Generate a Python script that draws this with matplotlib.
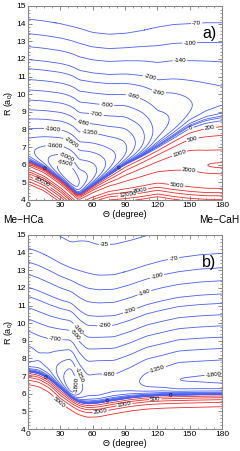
import numpy as np
import matplotlib
matplotlib.use("Agg")
import matplotlib.pyplot as plt
from matplotlib.ticker import MultipleLocator

plt.rcParams["font.family"] = ["Liberation Sans", "DejaVu Sans"]
plt.rcParams["mathtext.fontset"] = "custom"
plt.rcParams["mathtext.rm"] = "Liberation Sans"
plt.rcParams["contour.negative_linestyle"] = "solid"

# ---------------- panel a) : radial shape at each angle
theta_a = [0, 15, 30, 47, 60, 75, 90, 105, 120, 135, 150, 165, 180]
wall_a = [6.2, 5.8, 5.15, 4.25, 4.8, 5.4, 6.0, 6.45, 6.95, 7.5, 8.05, 8.35, 8.5]        # R of the 0 contour
r70_a = [14.26, 14.15, 14.0, 13.75, 13.5, 13.4, 13.45, 13.6, 13.8, 13.95, 14.0, 14.05, 14.05]  # R of the -70 contour
tail_a = [6, 6, 6, 6, 6, 6, 6, 5.6, 5.0, 5.0, 5.0, 5.0, 5.0]
soft_a = [8, 8, 6, 1.0, 2, 2.5, 3, 3, 3, 3.5, 4, 4, 4]
slope_a = [0, 0, 0, 0, 400, 800, 1200, 1300, 1200, 1000, 800, 650, 600]
hard_a = [5.85, 5.45, 4.8, 3.9, 4.2, 4.45, 4.5, 4.6, 4.75, 4.6, 4.5, 4.45, 4.45]    # R where inner wall reaches 5000
pocket_a = (180, 5.93, 800)

neg_a = [-6500, -5000, -3600, -2600, -1900, -1350, -980, -700, -500, -360, -260, -200, -140, -100, -70]
pos_a = [200, 500, 1000, 2000, 5000, 8000, 12000, 20000, 30000, 50000, 80000]

labels_a = [(-70, 156.5, 14.0), (-100, 150, 13.03), (-140, 141, 12.1), (-200, 114.7, 11.28),
            (-260, 122.5, 10.58), (-360, 97.7, 9.95), (-500, 73, 9.4), (-700, 63.7, 9.0),
            (-980, 51, 8.7), (-1350, 57.5, 8.07), (-1900, 23.5, 8.25), (-2600, 40.5, 7.3),
            (-3600, 25, 7.44), (-5000, 36, 6.46), (-6500, 32.8, 5.8), (0, 14, 5.75), (0, 84, 5.9),
            (0, 151, 8.1), (200, 169, 8.0), (500, 153, 7.3), (1000, 142, 6.38), (2000, 149, 5.35),
            (5000, 138, 4.8), (8000, 104, 4.55), (12000, 93, 4.2), (20000, 15, 5.24)]

# ---------------- panel b)
theta_b = [0, 10, 20, 30, 40, 47, 55, 65, 80, 95, 110, 125, 140, 160, 180]
wall_b = [7.25, 7.14, 6.82, 6.3, 5.78, 5.52, 5.42, 5.47, 5.62, 5.76, 5.85, 5.9, 5.92, 5.94, 5.95]
r70_b = [14.25, 14.05, 13.75, 13.4, 13.13, 13.0, 12.85, 12.72, 12.75, 13.0, 13.3, 13.55, 13.72, 13.88, 13.96]
tail_b = [7, 7, 7, 7, 7, 6.4, 6.0, 6.1, 6.1, 6.3, 6.6, 6.8, 7, 7, 7]
soft_b = [2.5, 2.0, 1.7, 1.8, 2.0, 1.0, 0.8, 1.0, 1.2, 1.2, 1.0, 0.6, 0.4, 0.3, 0.3]
slope_b = [0] * 15
hard_b = [6.56, 6.44, 6.1, 5.5, 5.1, 4.85, 4.7, 4.72, 4.9, 5.06, 5.17, 5.22, 5.25, 5.28, 5.31]

neg_b = [-1800, -1350, -980, -700, -500, -360, -260, -200, -140, -100, -70, -35]
pos_b = [200, 500, 1000, 2000, 5000]

labels_b = [(-35, 71, 14.05), (-70, 135, 13.7), (-100, 119, 12.83), (-140, 107, 11.9),
            (-200, 93, 11.0), (-260, 71, 10.2), (-360, 46.7, 9.67), (-500, 42, 9.27),
            (-700, 25, 8.9), (-980, 76, 7.67), (-1350, 51, 7.16), (-1350, 119, 7.6),
            (-1800, 43.6, 6.5), (-1800, 172, 7.2), (0, 15.8, 6.93), (0, 73, 5.77), (0, 132, 5.89),
            (5000, 28, 5.45), (2000, 67, 5.1), (1000, 89, 5.6), (500, 118, 5.77)]

BLUE = "#4a5ff0"
RED = "#ee2a2a"

th = np.linspace(0, 180, 361)
rr = np.linspace(4, 15, 551)
T, RR = np.meshgrid(th, rr)


def profile(nodes, vals, w=11):
    y = np.interp(th, nodes, vals)
    yp = np.pad(y, w // 2, mode="reflect")
    return np.convolve(yp, np.ones(w) / w, mode="valid")


def surface(nodes, wall, r70, tail, soft, slope, hard, pocket=None):
    rw = profile(nodes, wall)
    n = profile(nodes, tail)
    m = profile(nodes, soft)
    r7 = profile(nodes, r70)
    s = profile(nodes, slope)
    rh = profile(nodes, hard)
    c = 70 * r7 ** n / (1 - (rw / r7) ** m)
    att = -c / RR ** n * (1 - (rw / RR) ** m)
    rep = s * (rw - RR) + 5000 * (np.exp(3 * (rh - RR)) - np.exp(3 * (rh - rw)))
    v = np.where(RR >= rw, att, rep)
    if pocket is not None:
        t0, r0, amp = pocket
        v = v - amp * np.exp(-0.5 * ((T - t0) / 18) ** 2 - 0.5 * ((RR - r0) / 0.18) ** 2)
    return v


def draw(ax, v, neg, pos, labels, tag):
    sets = {}
    for lev in sorted(neg) + [0] + pos:
        col = RED if lev > 0 else BLUE
        sets[lev] = ax.contour(th, rr, v, levels=[lev], colors=col, linewidths=0.6,
                               linestyles="solid")
    for lev, x, y in labels:
        cs = sets[lev]
        if len(cs.allsegs[0]) == 0:
            continue
        ax.clabel(cs, manual=[(x, y)], inline=True, inline_spacing=1,
                  fontsize=4.5, fmt=lambda z: f"{z:.0f}", colors="black")
    ax.set_xlim(0, 180)
    ax.set_ylim(4, 15)
    ax.xaxis.set_major_locator(MultipleLocator(30))
    ax.xaxis.set_minor_locator(MultipleLocator(7.5))
    ax.yaxis.set_major_locator(MultipleLocator(1))
    ax.yaxis.set_minor_locator(MultipleLocator(0.2))
    ax.tick_params(which="both", direction="in", top=True, right=True, labelsize=6,
                   color="#777777", pad=1.5)
    ax.tick_params(which="major", length=3, width=0.6)
    ax.tick_params(which="minor", length=1.5, width=0.5)
    for sp in ax.spines.values():
        sp.set_color("#888888")
        sp.set_linewidth(0.8)
    ax.set_xlabel("\u0398 (degree)", fontsize=6.5, labelpad=0.5)
    ax.set_ylabel("R (a$\\mathregular{_0}$)", fontsize=6.5, labelpad=1)
    ax.text(168, 13.45, tag, fontsize=11.5, ha="center", va="center")


fig = plt.figure(figsize=(2.4, 4.51), dpi=100)
ax_a = fig.add_axes([28 / 240, 1 - 200 / 451, 194 / 240, 194 / 451])
ax_b = fig.add_axes([28 / 240, 1 - 429 / 451, 194 / 240, 194 / 451])

va = surface(theta_a, wall_a, r70_a, tail_a, soft_a, slope_a, hard_a, pocket_a)
vb = surface(theta_b, wall_b, r70_b, tail_b, soft_b, slope_b, hard_b)
draw(ax_a, va, neg_a, pos_a, labels_a, "a)")
draw(ax_b, vb, neg_b, pos_b, labels_b, "b)")

fig.text(3 / 240, 1 - 220 / 451, "Me\u2212HCa", fontsize=7.3, ha="left", va="center")
fig.text(239 / 240, 1 - 220 / 451, "Me\u2212CaH", fontsize=7.3, ha="right", va="center")

fig.savefig("out.png", dpi=100)
